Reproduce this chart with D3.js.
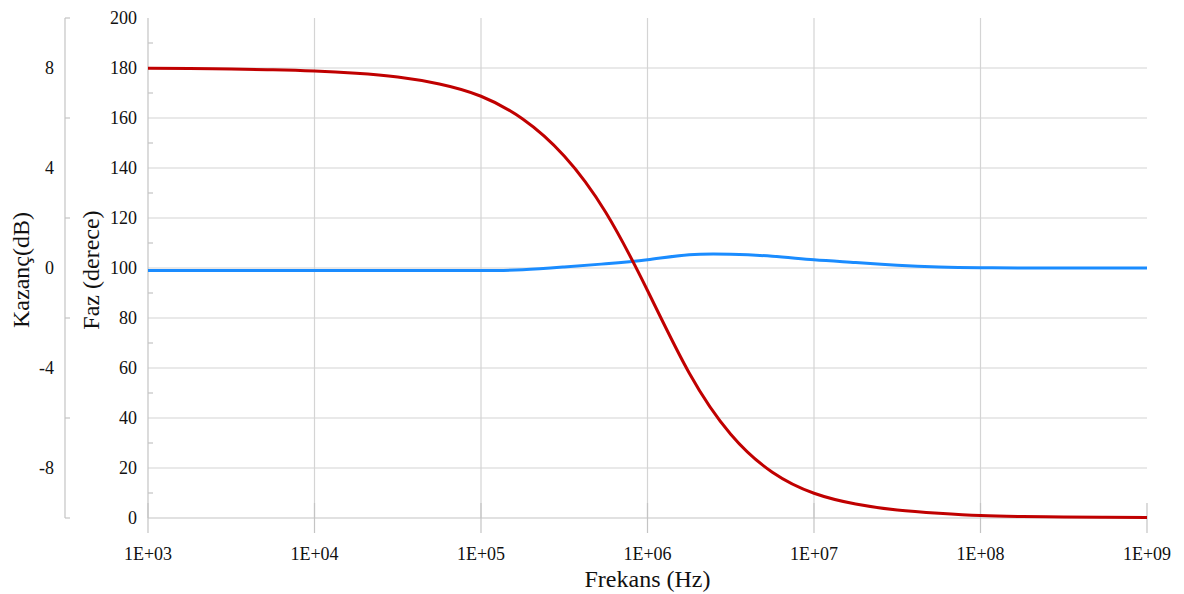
<!DOCTYPE html>
<html>
<head>
<meta charset="utf-8">
<script src="https://cdn.jsdelivr.net/npm/d3@7/dist/d3.min.js"></script>
<style>
  html, body { margin: 0; padding: 0; background: #fff; }
  svg { display: block; font-family: "Liberation Serif", "Times New Roman", serif; }
</style>
</head>
<body>
<svg id="chart" width="1184" height="594"></svg>
<script>
// Frequency sweep (Hz), four points per decade
const freqs = [1e3, 1.78e3, 3.16e3, 5.62e3,
               1e4, 1.78e4, 3.16e4, 5.62e4,
               1e5, 1.78e5, 3.16e5, 5.62e5,
               1e6, 1.78e6, 3.16e6, 5.62e6,
               1e7, 1.78e7, 3.16e7, 5.62e7,
               1e8, 1.78e8, 3.16e8, 5.62e8,
               1e9];
// Phase response (degrees)
const phase = [179.9, 179.8, 179.6, 179.3,
               178.8, 177.9, 176.4, 173.6,
               168.7, 159.6, 144.8, 122.2,
               91, 58, 33.5, 18.3,
               9.9, 5.6, 3.2, 1.9,
               1.0, 0.6, 0.4, 0.3,
               0.2];
// Gain response (dB)
const gain = [-0.1, -0.1, -0.1, -0.1,
              -0.1, -0.1, -0.1, -0.1,
              -0.1, -0.07, 0.04, 0.17,
              0.33, 0.53, 0.55, 0.47,
              0.33, 0.22, 0.11, 0.04,
              0.01, 0, 0, 0,
              0];

// Axis ticks
const freqTicks = [1e3, 1e4, 1e5, 1e6, 1e7, 1e8, 1e9];
const phaseTicks = [0, 20, 40, 60, 80, 100, 120, 140, 160, 180, 200];
const phaseMinor = [10, 30, 50, 70, 90, 110, 130, 150, 170, 190];
const gainTicks = [-8, -4, 0, 4, 8];
const gainMinor = [-10, -6, -2, 2, 6, 10];

const svg = d3.select("#chart");
const plotL = 148, plotR = 1147, plotT = 18, plotB = 518;
const gainAxisX = 65;

const x = d3.scaleLog().domain([1e3, 1e9]).range([plotL, plotR]);
const yP = d3.scaleLinear().domain([0, 200]).range([plotB, plotT]);
const yG = d3.scaleLinear().domain([-10, 10]).range([plotB, plotT]);

const gridColor = "#d4d4d4";
const axisColor = "#c4c4c4";

// horizontal gridlines
svg.append("g").selectAll("line")
  .data(phaseTicks.filter(d => d > 0 && d < 200))
  .join("line")
  .attr("x1", plotL).attr("x2", plotR)
  .attr("y1", d => yP(d)).attr("y2", d => yP(d))
  .attr("stroke", gridColor).attr("stroke-width", 1.2);

// vertical gridlines
svg.append("g").selectAll("line")
  .data(freqTicks.filter(d => d > 1e3 && d < 1e9))
  .join("line")
  .attr("x1", d => x(d)).attr("x2", d => x(d))
  .attr("y1", plotT).attr("y2", plotB)
  .attr("stroke", gridColor).attr("stroke-width", 1.2);

// x axis baseline and decade ticks
svg.append("line")
  .attr("x1", plotL).attr("x2", plotR)
  .attr("y1", yP(0)).attr("y2", yP(0))
  .attr("stroke", axisColor).attr("stroke-width", 1.2);
svg.append("g").selectAll("line")
  .data(freqTicks)
  .join("line")
  .attr("x1", d => x(d)).attr("x2", d => x(d))
  .attr("y1", plotB - 15).attr("y2", plotB + 15)
  .attr("stroke", axisColor).attr("stroke-width", 1.2);

svg.append("g").selectAll("text")
  .data(freqTicks)
  .join("text")
  .attr("x", d => x(d)).attr("y", 560)
  .attr("text-anchor", "middle")
  .attr("font-size", 18)
  .attr("fill", "#111")
  .text(d => "1E+" + String(Math.round(Math.log10(d))).padStart(2, "0"));

// phase axis
svg.append("line")
  .attr("x1", plotL).attr("x2", plotL)
  .attr("y1", plotT).attr("y2", plotB)
  .attr("stroke", axisColor).attr("stroke-width", 1.2);
svg.append("g").selectAll("line")
  .data(phaseMinor)
  .join("line")
  .attr("x1", plotL).attr("x2", plotL + 5)
  .attr("y1", d => yP(d)).attr("y2", d => yP(d))
  .attr("stroke", axisColor).attr("stroke-width", 1.2);
svg.append("g").selectAll("text")
  .data(phaseTicks)
  .join("text")
  .attr("x", 137).attr("y", d => yP(d))
  .attr("dy", "0.35em")
  .attr("text-anchor", "end")
  .attr("font-size", 18)
  .attr("fill", "#111")
  .text(d => d);

// gain axis
svg.append("line")
  .attr("x1", gainAxisX).attr("x2", gainAxisX)
  .attr("y1", plotT).attr("y2", plotB)
  .attr("stroke", axisColor).attr("stroke-width", 1.2);
svg.append("g").selectAll("line")
  .data(gainMinor)
  .join("line")
  .attr("x1", gainAxisX).attr("x2", gainAxisX + 5)
  .attr("y1", d => yG(d)).attr("y2", d => yG(d))
  .attr("stroke", axisColor).attr("stroke-width", 1.2);
svg.append("g").selectAll("text")
  .data(gainTicks)
  .join("text")
  .attr("x", 54).attr("y", d => yG(d))
  .attr("dy", "0.35em")
  .attr("text-anchor", "end")
  .attr("font-size", 18)
  .attr("fill", "#111")
  .text(d => d);

// axis titles
svg.append("text")
  .attr("x", (plotL + plotR) / 2).attr("y", 587)
  .attr("text-anchor", "middle")
  .attr("font-size", 24)
  .attr("fill", "#111")
  .text("Frekans (Hz)");
svg.append("text")
  .attr("transform", "translate(29,270) rotate(-90)")
  .attr("text-anchor", "middle")
  .attr("font-size", 24)
  .attr("fill", "#111")
  .text("Kazanç(dB)");
svg.append("text")
  .attr("transform", "translate(99,270) rotate(-90)")
  .attr("text-anchor", "middle")
  .attr("font-size", 24)
  .attr("fill", "#111")
  .text("Faz (derece)");

// response curves (smooth spline through the sampled points)
const gainLine = d3.line()
  .x((d, i) => x(freqs[i]))
  .y(d => yG(d))
  .curve(d3.curveNatural);
const phaseLine = d3.line()
  .x((d, i) => x(freqs[i]))
  .y(d => yP(d))
  .curve(d3.curveNatural);

svg.append("path")
  .datum(gain)
  .attr("d", gainLine)
  .attr("fill", "none")
  .attr("stroke", "#1a8cff")
  .attr("stroke-width", 3);

svg.append("path")
  .datum(phase)
  .attr("d", phaseLine)
  .attr("fill", "none")
  .attr("stroke", "#c00000")
  .attr("stroke-width", 3);
</script>
</body>
</html>
